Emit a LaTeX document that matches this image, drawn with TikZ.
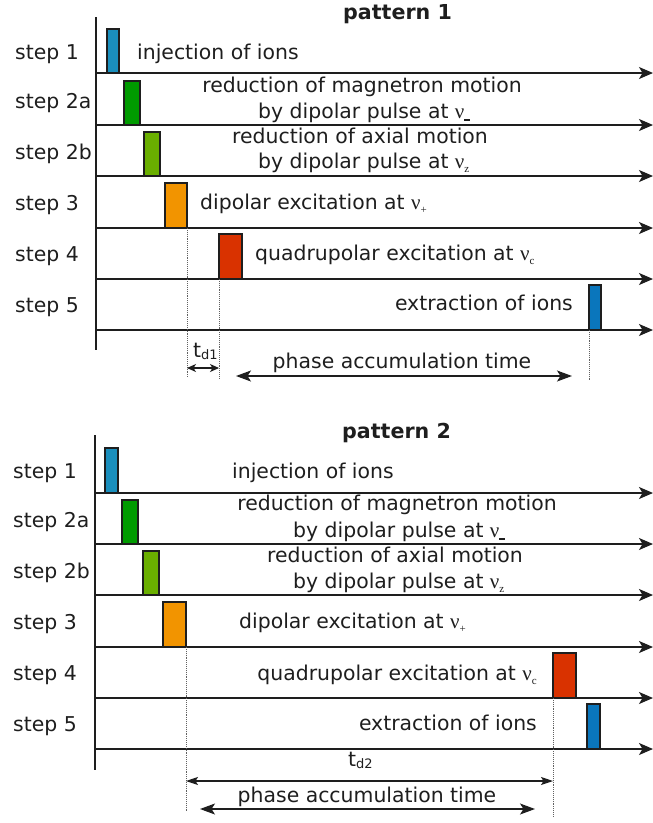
\documentclass[tikz,border=0pt]{standalone}
\usepackage{fontspec}
\setmainfont{DejaVu Sans}
\newfontfamily\nufont{Liberation Serif}
\usetikzlibrary{arrows.meta}

\definecolor{ink}{HTML}{1E1E1E}
\definecolor{cinj}{HTML}{1A8FBD}
\definecolor{cmag}{HTML}{009B00}
\definecolor{cax}{HTML}{6AAF00}
\definecolor{cdip}{HTML}{F29400}
\definecolor{cquad}{HTML}{D93200}
\definecolor{cext}{HTML}{0A76BC}

% frequency symbol with a small subscript
\newcommand\freq[1]{{\nufont\fontsize{21}{21}\selectfont ν}\raisebox{-0.4ex}{\nufont\fontsize{11}{11}\selectfont #1}}
\newcommand\minusmark{\rule[0.35ex]{6pt}{1.8pt}}

\tikzset{
  lbl/.style={inner sep=0pt, font=\fontsize{20.4}{24}\selectfont, text=ink},
  title/.style={inner sep=0pt, font=\fontsize{20.6}{24}\selectfont\bfseries, text=ink},
  pulse/.style={draw=ink, line width=1.1pt, inner sep=0pt, outer sep=0pt, anchor=south west},
  axisline/.style={line width=1.2pt, draw=ink},
  timeline/.style={line width=1.2pt, draw=ink, -{Stealth[length=14pt,width=12pt,inset=3.5pt]}},
  guide/.style={densely dotted, draw=ink!70, line width=0.9pt},
  shortspan/.style={line width=1.1pt, draw=ink, {Stealth[length=9pt,width=8pt,inset=2.5pt]}-{Stealth[length=9pt,width=8pt,inset=2.5pt]}},
  longspan/.style={line width=1.2pt, draw=ink, {Stealth[length=15pt,width=11pt,inset=3.5pt]}-{Stealth[length=15pt,width=11pt,inset=3.5pt]}},
  midspan/.style={line width=1.1pt, draw=ink, {Stealth[length=12pt,width=8pt,inset=2.5pt]}-{Stealth[length=12pt,width=8pt,inset=2.5pt]}},
}

\begin{document}
\begin{tikzpicture}[x=1pt, y=-1pt]
\useasboundingbox (0,0) rectangle (653,823);

%% ---------------- pattern 1 ----------------
\node[title, anchor=base west] (t1) at (343,19) {pattern 1};

\coordinate (a1top) at (96,17);
\coordinate (a1bot) at (96,350);
\draw[axisline] (a1top) -- (a1bot);
\foreach \n/\y in {1/73, 2/125, 3/176, 4/228, 5/279, 6/330}{
  \coordinate (a1s\n) at (96,\y);
  \coordinate (a1e\n) at (653,\y);
  \draw[timeline] (a1s\n) -- (a1e\n);
}

\node[lbl, anchor=base west] (s11) at (15,59)  {step 1};
\node[lbl, anchor=base west] (s12) at (15,108) {step 2a};
\node[lbl, anchor=base west] (s13) at (15,159) {step 2b};
\node[lbl, anchor=base west] (s14) at (15,210) {step 3};
\node[lbl, anchor=base west] (s15) at (15,261) {step 4};
\node[lbl, anchor=base west] (s16) at (15,312) {step 5};

\node[pulse, fill=cinj,  minimum width=12pt, minimum height=44pt] (p11) at (107,73)  {};
\node[pulse, fill=cmag,  minimum width=16pt, minimum height=44pt] (p12) at (124,125) {};
\node[pulse, fill=cax,   minimum width=16pt, minimum height=44pt] (p13) at (144,176) {};
\node[pulse, fill=cdip,  minimum width=22pt, minimum height=45pt] (p14) at (165,228) {};
\node[pulse, fill=cquad, minimum width=23pt, minimum height=45pt] (p15) at (219,279) {};
\node[pulse, fill=cext,  minimum width=12pt, minimum height=45pt] (p16) at (589,330) {};

\node[lbl, anchor=base west] (l11) at (137,59) {injection of ions};
\node[lbl, anchor=base] (l12a) at (362,92) {reduction of magnetron motion};
\node[lbl, anchor=base west] (l12b) at (258,118) {by dipolar pulse at \freq{\minusmark}};
\node[lbl, anchor=base] (l13a) at (360,143) {reduction of axial motion};
\node[lbl, anchor=base west] (l13b) at (258,168) {by dipolar pulse at \freq{z}};
\node[lbl, anchor=base west] (l14) at (200,209) {dipolar excitation at \freq{+}};
\node[lbl, anchor=base west] (l15) at (255,260) {quadrupolar excitation at \freq{c}};
\node[lbl, anchor=base east] (l16) at (573,310) {extraction of ions};

\coordinate (g11) at (187,377);
\coordinate (g12) at (219,379);
\coordinate (g13) at (589,380);
\draw[guide] (p14.south east) -- (g11);
\draw[guide] (p15.south west) -- (g12);
\draw[guide] (p16.south west) -- (g13);

\coordinate (d1l) at (187,368);
\coordinate (d1r) at (219,368);
\draw[shortspan] (d1l) -- (d1r);
\node[lbl, anchor=base west] (td1) at (193,357) {t\raisebox{-0.25ex}{\fontsize{13}{13}\selectfont d1}};

\coordinate (ph1l) at (236,376);
\coordinate (ph1r) at (572,376);
\draw[longspan] (ph1l) -- (ph1r);
\node[lbl, anchor=base] (ph1) at (402,368) {phase accumulation time};

%% ---------------- pattern 2 ----------------
\node[title, anchor=base west] (t2) at (342,438) {pattern 2};

\coordinate (a2top) at (95,435);
\coordinate (a2bot) at (95,770);
\draw[axisline] (a2top) -- (a2bot);
\foreach \n/\y in {1/493, 2/544, 3/595, 4/647, 5/698, 6/749}{
  \coordinate (a2s\n) at (95,\y);
  \coordinate (a2e\n) at (653,\y);
  \draw[timeline] (a2s\n) -- (a2e\n);
}

\node[lbl, anchor=base west] (s21) at (13,478) {step 1};
\node[lbl, anchor=base west] (s22) at (13,527) {step 2a};
\node[lbl, anchor=base west] (s23) at (13,578) {step 2b};
\node[lbl, anchor=base west] (s24) at (13,629) {step 3};
\node[lbl, anchor=base west] (s25) at (13,680) {step 4};
\node[lbl, anchor=base west] (s26) at (13,731) {step 5};

\node[pulse, fill=cinj,  minimum width=13pt, minimum height=45pt] (p21) at (105,493) {};
\node[pulse, fill=cmag,  minimum width=16pt, minimum height=44pt] (p22) at (122,544) {};
\node[pulse, fill=cax,   minimum width=16pt, minimum height=44pt] (p23) at (143,595) {};
\node[pulse, fill=cdip,  minimum width=23pt, minimum height=45pt] (p24) at (163,647) {};
\node[pulse, fill=cquad, minimum width=23pt, minimum height=45pt] (p25) at (553,698) {};
\node[pulse, fill=cext,  minimum width=13pt, minimum height=45pt] (p26) at (587,749) {};

\node[lbl, anchor=base west] (l21) at (232,478) {injection of ions};
\node[lbl, anchor=base] (l22a) at (397,510) {reduction of magnetron motion};
\node[lbl, anchor=base west] (l22b) at (293,537) {by dipolar pulse at \freq{\minusmark}};
\node[lbl, anchor=base] (l23a) at (395,562) {reduction of axial motion};
\node[lbl, anchor=base west] (l23b) at (293,588) {by dipolar pulse at \freq{z}};
\node[lbl, anchor=base west] (l24) at (239,628) {dipolar excitation at \freq{+}};
\node[lbl, anchor=base east] (l25) at (537,680) {quadrupolar excitation at \freq{c}};
\node[lbl, anchor=base east] (l26) at (537,730) {extraction of ions};

\coordinate (g21) at (186,812);
\coordinate (g22) at (553,817);
\draw[guide] (p24.south east) -- (g21);
\draw[guide] (p25.south west) -- (g22);

\coordinate (d2l) at (186,781);
\coordinate (d2r) at (553,781);
\draw[midspan] (d2l) -- (d2r);
\node[lbl, anchor=base west] (td2) at (348,766) {t\raisebox{-0.25ex}{\fontsize{13}{13}\selectfont d2}};

\coordinate (ph2l) at (200,809);
\coordinate (ph2r) at (535,809);
\draw[longspan] (ph2l) -- (ph2r);
\node[lbl, anchor=base] (ph2) at (367,802) {phase accumulation time};
\end{tikzpicture}
\end{document}
